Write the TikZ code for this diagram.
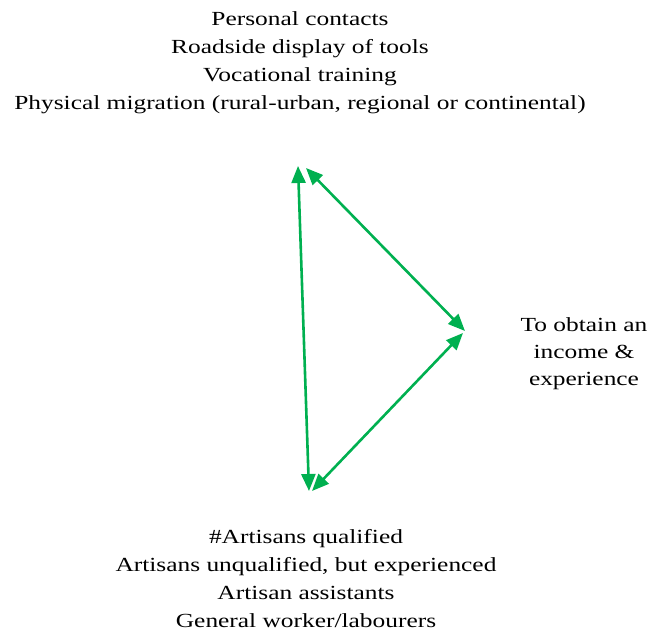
\documentclass[tikz,border=0pt]{standalone}
\usepackage{fontspec}
\setmainfont{Liberation Serif}[FakeStretch=1.27]
\usetikzlibrary{arrows.meta}
\definecolor{linkgreen}{RGB}{0,176,80}
\begin{document}
\begin{tikzpicture}[x=1pt,y=-1pt,
  label text/.style={align=center,font=\fontsize{20}{28}\selectfont,inner sep=0pt},
  link/.style={draw=linkgreen,line width=2.6pt,
    {Triangle[length=17pt,width=14pt]}-{Triangle[length=17pt,width=14pt]},
    shorten <=0pt, shorten >=0pt}]
\useasboundingbox (0,0) rectangle (649,631);

% text blocks
\node[label text] (channels) at (300,63) {Personal contacts\\Roadside display of tools\\Vocational training\\Physical migration (rural-urban, regional or continental)};
\node[label text,font=\fontsize{20}{27}\selectfont] (purpose) at (584,354) {To obtain an\\income \&\\experience};
\node[label text] (workers) at (306,579) {\#Artisans qualified\\Artisans unqualified, but experienced\\Artisan assistants\\General worker/labourers};

% triangle vertices
\coordinate (topL) at (298,166);
\coordinate (topR) at (306,168);
\coordinate (rightA) at (465,331);
\coordinate (rightB) at (463,333);
\coordinate (botL) at (309,491);
\coordinate (botR) at (312,491);

\draw[link] (botL) -- (topL);
\draw[link] (topR) -- (rightA);
\draw[link] (rightB) -- (botR);
\end{tikzpicture}
\end{document}
